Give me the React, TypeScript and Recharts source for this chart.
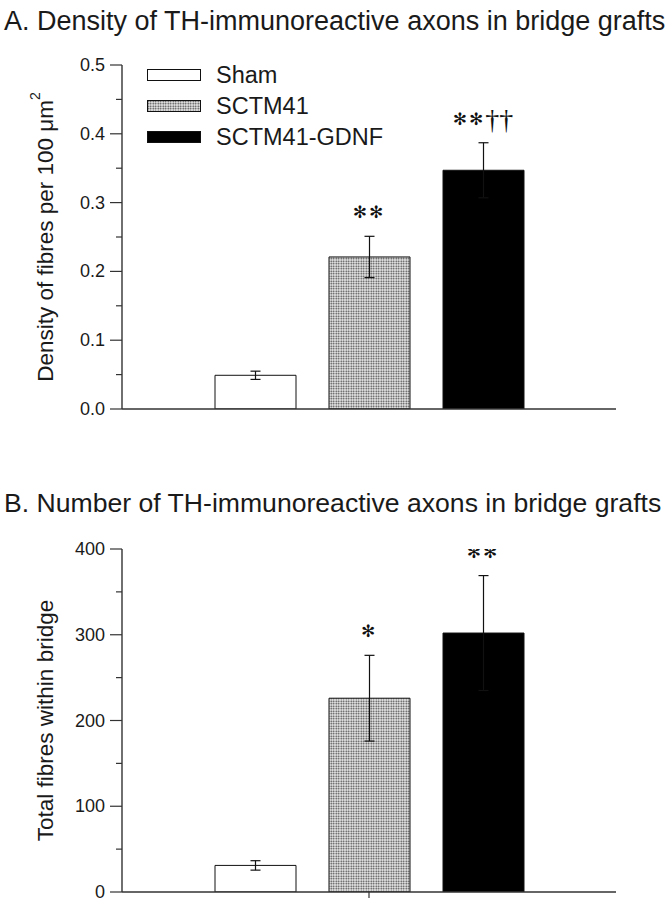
import React from 'react'
import { ComposedChart, Bar, Cell, ErrorBar, Scatter, XAxis, YAxis, Legend } from 'recharts'

const groups = ['Sham', 'SCTM41', 'SCTM41-GDNF']

const densityMean = [0.049, 0.221, 0.347]
const densityErr = [0.006, 0.03, 0.04]
const densityMarks = ['', '**', '**††']
const densityTicks = [0, 0.05, 0.1, 0.15, 0.2, 0.25, 0.3, 0.35, 0.4, 0.45, 0.5]
const densityMajor = [0, 0.1, 0.2, 0.3, 0.4, 0.5]

const totalMean = [31, 226, 302]
const totalErr = [5.5, 50, 67]
const totalMarks = ['', '*', '**']
const totalTicks = [0, 50, 100, 150, 200, 250, 300, 350, 400]
const totalMajor = [0, 100, 200, 300, 400]

const FONT = '"Liberation Sans", Arial, sans-serif'
const INK = '#1a1a1a'
const fills = ['#ffffff', 'url(#stipple)', '#000000']

function buildRows(mean: number[], err: number[], marks: string[]) {
  return groups.map((g, i) => ({ name: g, mean: mean[i], err: err[i], top: mean[i] + err[i], mark: marks[i] }))
}

const densityRows = buildRows(densityMean, densityErr, densityMarks)
const totalRows = buildRows(totalMean, totalErr, totalMarks)

function Stipple({ id }: { id: string }) {
  return (
    <pattern id={id} width={2.5} height={2.5} patternUnits="userSpaceOnUse">
      <rect width={2.5} height={2.5} fill="#eeeeee" />
      <circle cx={1.25} cy={1.25} r={0.85} fill="#3a3a3a" />
    </pattern>
  )
}

function makeYTick(major: number[], fmt: (v: number) => string) {
  return function YTick(props: any) {
    const { x, y, payload } = props
    const isMajor = major.some((m) => Math.abs(m - payload.value) < 1e-9)
    return (
      <g>
        <line x1={x - (isMajor ? 12 : 6)} x2={x} y1={y} y2={y} stroke="#333" strokeWidth={1.2} />
        {isMajor && (
          <text x={x - 17} y={y} textAnchor="end" dominantBaseline="central"
            fontFamily={FONT} fontSize={18} fill={INK}>
            {fmt(payload.value)}
          </text>
        )}
      </g>
    )
  }
}

function AxisTitle(props: any) {
  const vb = props.viewBox || { x: 62, y: 0, width: 60, height: 0 }
  const cx = vb.x - 17
  const cy = vb.y + vb.height / 2
  return (
    <text x={cx} y={cy} transform={`rotate(-90 ${cx} ${cy})`} textAnchor="middle"
      dominantBaseline="central" fontFamily={FONT} fontSize={22.5} fill={INK}>
      {props.text}
      {props.sup && <tspan dy={-10} fontSize={14}>{props.sup}</tspan>}
    </text>
  )
}

function MarkShape(props: any) {
  const { cx, cy, payload } = props
  if (!payload || !payload.mark) return <g />
  const stars = payload.mark.replace(/†/g, '').replace(/\*/g, '✻')
  const daggers = payload.mark.replace(/\*/g, '')
  return (
    <text x={cx} y={cy - 24} textAnchor="middle" dominantBaseline="central" fill="#111">
      <tspan fontFamily='"DejaVu Sans", sans-serif' fontSize={17} letterSpacing={2}>{stars}</tspan>
      {daggers && <tspan fontFamily='"Liberation Serif", serif' fontSize={28}>{daggers}</tspan>}
    </text>
  )
}

function MiddleTick(props: any) {
  const { x, y, index } = props
  if (index !== 1) return <g />
  return <line x1={x} x2={x} y1={y} y2={y + 6} stroke="#333" strokeWidth={1.2} />
}

function GroupLegend() {
  return (
    <div style={{ fontFamily: FONT, fontSize: 23.5, color: INK }}>
      {groups.map((g, i) => (
        <div key={g} style={{ display: 'flex', alignItems: 'center', height: 31 }}>
          <svg width={54} height={13} style={{ marginRight: 15 }}>
            <defs><Stipple id="stipple-legend" /></defs>
            <rect x={0.5} y={0.5} width={53} height={11}
              fill={i === 1 ? 'url(#stipple-legend)' : fills[i]} stroke="#111" strokeWidth={1} />
          </svg>
          <span>{g}</span>
        </div>
      ))}
    </div>
  )
}

function Panel({ rows, ticks, major, domain, fmt, title, sup, height, marginTop, marginBottom, xHeight, showMiddleTick, legend }: any) {
  return (
    <ComposedChart width={669} height={height} data={rows}
      margin={{ top: marginTop, right: 53, bottom: marginBottom, left: 62 }}>
      <defs><Stipple id="stipple" /></defs>
      <XAxis dataKey="name" type="category" padding={{ left: 76, right: 76 }}
        axisLine={{ stroke: '#333', strokeWidth: 1.4 }} tickLine={false}
        tick={showMiddleTick ? <MiddleTick /> : false} tickSize={0} tickMargin={0} height={xHeight} interval={0} />
      <YAxis type="number" domain={domain} ticks={ticks} interval={0} width={60}
        axisLine={{ stroke: '#333', strokeWidth: 1.4 }} tickLine={false} tickSize={0} tickMargin={0}
        tick={makeYTick(major, fmt)} allowDataOverflow
        label={<AxisTitle text={title} sup={sup} />} />
      {legend && (
        <Legend layout="vertical" align="center" verticalAlign="middle" content={<GroupLegend />}
          wrapperStyle={{ left: 147, top: 60, width: 260, height: 100 }} />
      )}
      <Bar dataKey="mean" barSize={81} isAnimationActive={false} stroke="#111" strokeWidth={1}>
        {rows.map((r: any, i: number) => <Cell key={r.name} fill={fills[i]} />)}
        <ErrorBar dataKey="err" width={5} stroke="#111" strokeWidth={1.2} direction="y" />
      </Bar>
      <Scatter dataKey="top" isAnimationActive={false} shape={<MarkShape />} legendType="none" />
    </ComposedChart>
  )
}

export default function App() {
  const titleStyle: React.CSSProperties = {
    position: 'absolute', left: 4, fontFamily: FONT, color: INK,
    whiteSpace: 'nowrap', lineHeight: '30px',
  }
  return (
    <div style={{ position: 'absolute', left: 0, top: 0, width: 669, height: 900, background: '#fff' }}>
      <div style={{ ...titleStyle, top: 6, fontSize: 27 }}>A. Density of TH-immunoreactive axons in bridge grafts</div>
      <div style={{ position: 'absolute', left: 0, top: 0 }}>
        <Panel rows={densityRows} ticks={densityTicks} major={densityMajor} domain={[0, 0.5]}
          fmt={(v: number) => v.toFixed(1)} title="Density of fibres per 100 μm" sup="2"
          height={430} marginTop={65} marginBottom={1} xHeight={20} legend />
      </div>
      <div style={{ ...titleStyle, top: 488, fontSize: 26.6 }}>B. Number of TH-immunoreactive axons in bridge grafts</div>
      <div style={{ position: 'absolute', left: 0, top: 460 }}>
        <Panel rows={totalRows} ticks={totalTicks} major={totalMajor} domain={[0, 400]}
          fmt={(v: number) => String(v)} title="Total fibres within bridge"
          height={440} marginTop={89} marginBottom={0} xHeight={8} showMiddleTick />
      </div>
    </div>
  )
}
